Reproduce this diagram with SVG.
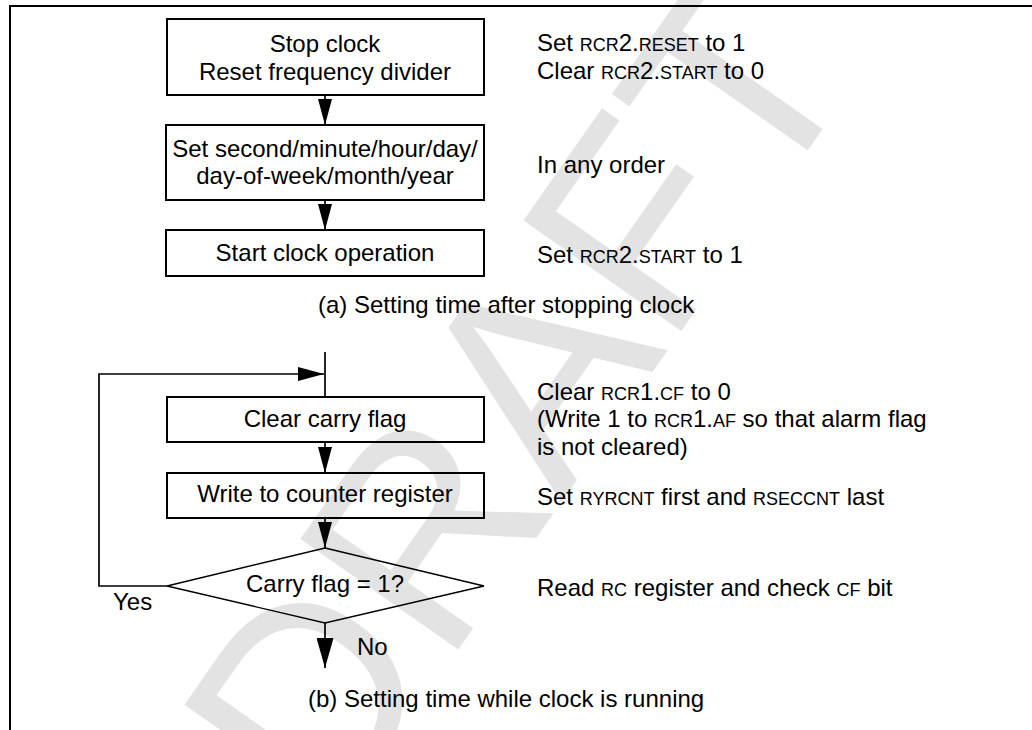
<svg xmlns="http://www.w3.org/2000/svg" width="1032" height="730" viewBox="0 0 1032 730">
  <style>
    .t { font-family: "Liberation Sans", Arial, Helvetica, sans-serif; font-size: 24px; fill: #000; }
    .c { text-anchor: middle; }
    .sc { font-size: 18px; }
    .box { fill: none; stroke: #000; stroke-width: 2; }
    .dec { fill: none; stroke: #000; stroke-width: 1.4; }
    .wire { fill: none; stroke: #000; stroke-width: 1.7; }
    .wm { font-family: "Liberation Sans", Arial, sans-serif; font-size: 280px; fill: #e3e3e3; }
  </style>
  <defs>
    <marker id="arrow" markerUnits="userSpaceOnUse" markerWidth="26" markerHeight="14" refX="26" refY="7" orient="auto">
      <path d="M0,0 L26,7 L0,14 Z" fill="#000"/>
    </marker>
    <marker id="arrowBig" markerUnits="userSpaceOnUse" markerWidth="30" markerHeight="17" refX="30" refY="8.5" orient="auto">
      <path d="M0,0 L30,8.5 L0,17 Z" fill="#000"/>
    </marker>
  </defs>

  <rect width="1032" height="730" fill="#fff"/>

  <!-- watermark -->
  <text class="wm" transform="translate(329,834) rotate(-55)">DRAFT</text>

  <!-- frame -->
  <path d="M10,730 V6 H1032" fill="none" stroke="#000" stroke-width="2"/>

  <!-- connectors -->
  <g id="connectors">
    <line class="wire" x1="325" y1="95" x2="325" y2="125" marker-end="url(#arrow)"/>
    <line class="wire" x1="325" y1="200" x2="325" y2="230" marker-end="url(#arrow)"/>
    <line class="wire" x1="325" y1="352" x2="325" y2="397"/>
    <path class="wire" d="M167,586 H99 V374 H324" marker-end="url(#arrow)"/>
    <line class="wire" x1="325" y1="442" x2="325" y2="473" marker-end="url(#arrow)"/>
    <line class="wire" x1="325" y1="518" x2="325" y2="548" marker-end="url(#arrow)"/>
    <line class="wire" x1="325" y1="623" x2="325" y2="668" marker-end="url(#arrowBig)"/>
  </g>

  <!-- (a) setting time after stopping clock -->
  <g id="stop-clock">
    <rect class="box" x="167" y="19" width="317" height="76"/>
    <text class="t c" x="325" y="52">Stop clock</text>
    <text class="t c" x="325" y="80">Reset frequency divider</text>
  </g>
  <g id="set-fields">
    <rect class="box" x="166" y="125" width="318" height="75"/>
    <text class="t c" x="325" y="157">Set second/minute/hour/day/</text>
    <text class="t c" x="325" y="184">day-of-week/month/year</text>
  </g>
  <g id="start-clock">
    <rect class="box" x="166" y="230" width="318" height="46"/>
    <text class="t c" x="325" y="261">Start clock operation</text>
  </g>

  <g id="notes-a">
    <text class="t" x="537" y="51">Set <tspan class="sc">RCR</tspan>2.<tspan class="sc">RESET</tspan> to 1</text>
    <text class="t" x="537" y="79">Clear <tspan class="sc">RCR</tspan>2.<tspan class="sc">START</tspan> to 0</text>
    <text class="t" x="537" y="173">In any order</text>
    <text class="t" x="537" y="263">Set <tspan class="sc">RCR</tspan>2.<tspan class="sc">START</tspan> to 1</text>
  </g>
  <text id="caption-a" class="t" x="318" y="313">(a) Setting time after stopping clock</text>

  <!-- (b) setting time while clock is running -->
  <g id="clear-carry">
    <rect class="box" x="167" y="397" width="317" height="45"/>
    <text class="t c" x="325" y="427">Clear carry flag</text>
  </g>
  <g id="write-counter">
    <rect class="box" x="167" y="473" width="317" height="45"/>
    <text class="t c" x="325" y="502">Write to counter register</text>
  </g>
  <g id="carry-check">
    <polygon class="dec" points="325,548 484,586 325,623 167,586"/>
    <text class="t c" x="325" y="592">Carry flag = 1?</text>
    <text class="t" x="113" y="610">Yes</text>
    <text class="t" x="357" y="655">No</text>
  </g>

  <g id="notes-b">
    <text class="t" x="537" y="400">Clear <tspan class="sc">RCR</tspan>1.<tspan class="sc">CF</tspan> to 0</text>
    <text class="t" x="537" y="427">(Write 1 to <tspan class="sc">RCR</tspan>1.<tspan class="sc">AF</tspan> so that alarm flag</text>
    <text class="t" x="537" y="455">is not cleared)</text>
    <text class="t" x="537" y="505">Set <tspan class="sc">RYRCNT</tspan> first and <tspan class="sc">RSECCNT</tspan> last</text>
    <text class="t" x="537" y="596">Read <tspan class="sc">RC</tspan> register and check <tspan class="sc">CF</tspan> bit</text>
  </g>
  <text id="caption-b" class="t" x="308" y="707">(b) Setting time while clock is running</text>
</svg>
